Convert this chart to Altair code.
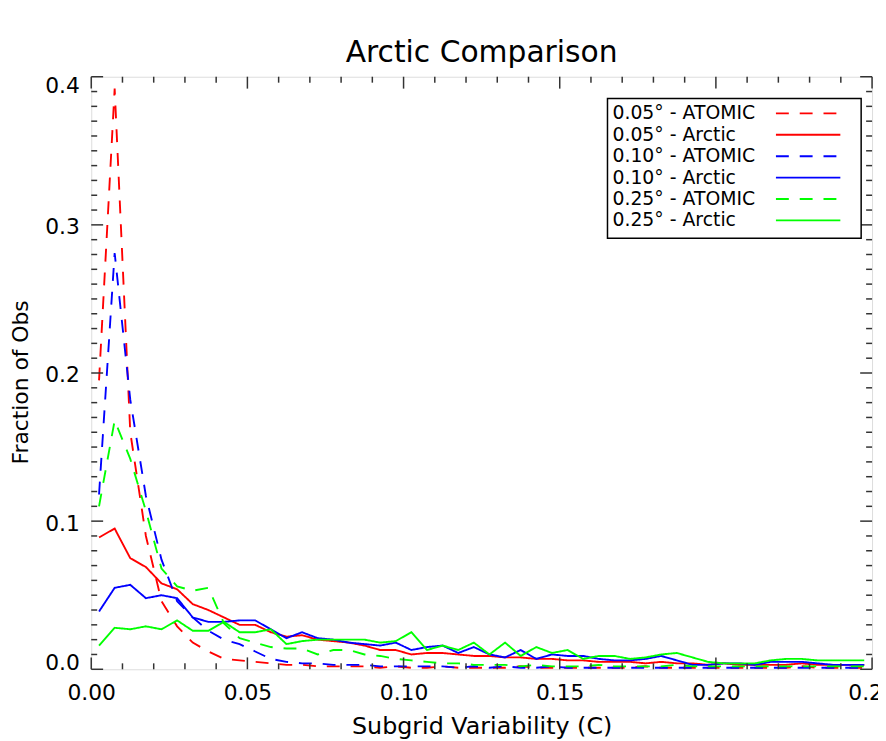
import altair as alt
import pandas as pd

# bin centres of subgrid variability (C)
x_bins = [0.0025, 0.0075, 0.0125, 0.0175, 0.0225, 0.0275, 0.0325, 0.0375, 0.0425, 0.0475,
          0.0525, 0.0575, 0.0625, 0.0675, 0.0725, 0.0775, 0.0825, 0.0875, 0.0925, 0.0975,
          0.1025, 0.1075, 0.1125, 0.1175, 0.1225, 0.1275, 0.1325, 0.1375, 0.1425, 0.1475,
          0.1525, 0.1575, 0.1625, 0.1675, 0.1725, 0.1775, 0.1825, 0.1875, 0.1925, 0.1975,
          0.2025, 0.2075, 0.2125, 0.2175, 0.2225, 0.2275, 0.2325, 0.2375, 0.2425, 0.2475]

atomic_005 = [0.195, 0.392, 0.160, 0.090, 0.046, 0.029, 0.018, 0.012, 0.007, 0.006,
              0.005, 0.004, 0.003, 0.003, 0.002, 0.002, 0.002, 0.002, 0.001, 0.002,
              0.001, 0.001, 0.002, 0.001, 0.001, 0.001, 0.001, 0.002, 0.001, 0.001,
              0.001, 0.001, 0.001, 0.001, 0.001, 0.002, 0.001, 0.001, 0.001, 0.001,
              0.001, 0.001, 0.001, 0.001, 0.001, 0.002, 0.001, 0.001, 0.001, 0.001]
arctic_005 = [0.089, 0.095, 0.075, 0.069, 0.058, 0.054, 0.044, 0.040, 0.035, 0.030,
              0.030, 0.025, 0.022, 0.023, 0.020, 0.019, 0.018, 0.016, 0.013, 0.013,
              0.010, 0.011, 0.011, 0.010, 0.009, 0.009, 0.008, 0.008, 0.007, 0.007,
              0.006, 0.006, 0.005, 0.005, 0.005, 0.004, 0.005, 0.004, 0.004, 0.003,
              0.004, 0.003, 0.003, 0.003, 0.003, 0.004, 0.003, 0.003, 0.003, 0.003]
atomic_010 = [0.118, 0.281, 0.182, 0.117, 0.074, 0.046, 0.035, 0.026, 0.020, 0.017,
              0.012, 0.007, 0.005, 0.004, 0.004, 0.003, 0.003, 0.003, 0.002, 0.002,
              0.002, 0.002, 0.002, 0.001, 0.002, 0.001, 0.002, 0.001, 0.001, 0.002,
              0.001, 0.001, 0.001, 0.001, 0.001, 0.001, 0.001, 0.001, 0.001, 0.001,
              0.001, 0.001, 0.001, 0.001, 0.001, 0.001, 0.001, 0.001, 0.001, 0.001]
arctic_010 = [0.039, 0.055, 0.057, 0.048, 0.050, 0.048, 0.035, 0.032, 0.032, 0.033,
              0.033, 0.027, 0.021, 0.025, 0.021, 0.020, 0.018, 0.017, 0.016, 0.018,
              0.013, 0.015, 0.016, 0.011, 0.015, 0.010, 0.008, 0.013, 0.007, 0.010,
              0.009, 0.009, 0.007, 0.006, 0.006, 0.007, 0.009, 0.006, 0.003, 0.003,
              0.004, 0.004, 0.003, 0.005, 0.005, 0.005, 0.004, 0.003, 0.003, 0.003]
atomic_025 = [0.110, 0.168, 0.142, 0.107, 0.068, 0.056, 0.053, 0.055, 0.031, 0.021,
              0.018, 0.015, 0.014, 0.014, 0.010, 0.013, 0.013, 0.010, 0.009, 0.007,
              0.006, 0.005, 0.004, 0.004, 0.003, 0.003, 0.003, 0.002, 0.003, 0.002,
              0.002, 0.002, 0.003, 0.002, 0.002, 0.002, 0.002, 0.003, 0.002, 0.002,
              0.002, 0.002, 0.002, 0.002, 0.002, 0.002, 0.002, 0.002, 0.002, 0.002]
arctic_025 = [0.016, 0.028, 0.027, 0.029, 0.027, 0.033, 0.026, 0.026, 0.032, 0.025,
              0.025, 0.027, 0.017, 0.019, 0.020, 0.020, 0.020, 0.020, 0.018, 0.019,
              0.025, 0.013, 0.016, 0.013, 0.018, 0.010, 0.018, 0.009, 0.015, 0.011,
              0.013, 0.007, 0.009, 0.009, 0.007, 0.008, 0.010, 0.011, 0.008, 0.005,
              0.004, 0.004, 0.004, 0.006, 0.007, 0.007, 0.006, 0.006, 0.006, 0.006]

series_names = ["0.05° - ATOMIC", "0.05° - Arctic", "0.10° - ATOMIC",
                "0.10° - Arctic", "0.25° - ATOMIC", "0.25° - Arctic"]
series_values = [atomic_005, arctic_005, atomic_010, arctic_010, atomic_025, arctic_025]
series_colors = ["#ff0000", "#ff0000", "#0000ff", "#0000ff", "#00ff00", "#00ff00"]
series_dashes = [[13, 11], [1, 0], [13, 11], [1, 0], [13, 11], [1, 0]]

x_major = [0.0, 0.05, 0.10, 0.15, 0.20, 0.25]
x_minor = [0.01, 0.02, 0.03, 0.04, 0.06, 0.07, 0.08, 0.09, 0.11, 0.12, 0.13, 0.14,
           0.16, 0.17, 0.18, 0.19, 0.21, 0.22, 0.23, 0.24]
y_major = [0.0, 0.1, 0.2, 0.3, 0.4]
y_minor = [0.01, 0.02, 0.03, 0.04, 0.05, 0.06, 0.07, 0.08, 0.09,
           0.11, 0.12, 0.13, 0.14, 0.15, 0.16, 0.17, 0.18, 0.19,
           0.21, 0.22, 0.23, 0.24, 0.25, 0.26, 0.27, 0.28, 0.29,
           0.31, 0.32, 0.33, 0.34, 0.35, 0.36, 0.37, 0.38, 0.39]

rows = []
for name, vals in zip(series_names, series_values):
    for i, (xv, yv) in enumerate(zip(x_bins, vals)):
        rows.append({"series": name, "x": xv, "y": yv, "order": i})
df = pd.DataFrame(rows)
df_leg = pd.DataFrame({"series": series_names})

W, H = 788, 598
FONT = "DejaVu Sans"
XT = "Subgrid Variability (C)"
YT = "Fraction of Obs"
xscale = alt.Scale(domain=[0, 0.25], nice=False, zero=False)
yscale = alt.Scale(domain=[0, 0.4], nice=False, zero=False)
color_scale = alt.Scale(domain=series_names, range=series_colors)
dash_scale = alt.Scale(domain=series_names, range=series_dashes)

xaxis = alt.Axis(values=x_major, format=".2f", ticks=False, tickSize=0, domain=False,
                 grid=False, labelFlush=False, labelPadding=13, labelFontSize=22,
                 labelFont=FONT, labelColor="black", titleFontSize=24, titleFont=FONT,
                 titleFontWeight="normal", titleColor="black", titlePadding=12)
yaxis = alt.Axis(values=y_major, format=".1f", ticks=False, tickSize=0, domain=False,
                 grid=False, labelFlush=True, labelFlushOffset=3, labelOffset=2,
                 labelPadding=12, labelFontSize=22,
                 labelFont=FONT, labelColor="black", titleFontSize=22, titleFont=FONT,
                 titleFontWeight="normal", titleColor="black", titlePadding=12, titleY=308)

lines = alt.Chart(df).mark_line(strokeWidth=1.9, clip=True).encode(
    x=alt.X("x:Q", scale=xscale, axis=xaxis, title=XT),
    y=alt.Y("y:Q", scale=yscale, axis=yaxis, title=YT),
    color=alt.Color("series:N", scale=color_scale, legend=None),
    strokeDash=alt.StrokeDash("series:N", scale=dash_scale, legend=None),
    detail="series:N",
    order="order:Q",
)

TICK_COLOR = "#333333"


def xticks(vals, length):
    d = pd.DataFrame({"x": vals})
    bottom = alt.Chart(d).mark_rule(color=TICK_COLOR, strokeWidth=1.5).encode(
        x=alt.X("x:Q", scale=xscale, title=XT), y=alt.value(H), y2=alt.value(H - length))
    top = alt.Chart(d).mark_rule(color=TICK_COLOR, strokeWidth=1.5).encode(
        x=alt.X("x:Q", scale=xscale, title=XT), y=alt.value(0), y2=alt.value(length))
    return [bottom, top]


def yticks(vals, length):
    d = pd.DataFrame({"y": vals})
    left = alt.Chart(d).mark_rule(color=TICK_COLOR, strokeWidth=1.5).encode(
        y=alt.Y("y:Q", scale=yscale, title=YT), x=alt.value(0), x2=alt.value(length))
    right = alt.Chart(d).mark_rule(color=TICK_COLOR, strokeWidth=1.5).encode(
        y=alt.Y("y:Q", scale=yscale, title=YT), x=alt.value(W), x2=alt.value(W - length))
    return [left, right]


main = alt.layer(lines, *(xticks(x_major, 12) + xticks(x_minor, 6)
                          + yticks(y_major, 12) + yticks(y_minor, 6)))

# legend box drawn as marks (labels on the left, line samples on the right)
leg_y = alt.Scale(type="point", domain=series_names, range=[37, 145], padding=0)
leg_frame = alt.Chart(df_leg.head(1)).mark_rect(
    fill="white", stroke="black", strokeWidth=1.5).encode(
    x=alt.value(521), x2=alt.value(777), y=alt.value(22), y2=alt.value(163))
leg_text = alt.Chart(df_leg).mark_text(
    align="left", baseline="middle", fontSize=19, font=FONT, color="black").encode(
    x=alt.value(526), y=alt.Y("series:N", scale=leg_y, axis=None), text="series:N")
leg_lines = alt.Chart(df_leg).mark_rule(strokeWidth=1.9).encode(
    x=alt.value(691), x2=alt.value(756), y=alt.Y("series:N", scale=leg_y, axis=None),
    color=alt.Color("series:N", scale=color_scale, legend=None),
    strokeDash=alt.StrokeDash("series:N", scale=dash_scale, legend=None))
legend_layer = alt.layer(leg_frame, leg_text, leg_lines)

chart = alt.layer(main, legend_layer).resolve_scale(y="independent").properties(
    width=W, height=H,
    title=alt.TitleParams("Arctic Comparison", fontSize=30, font=FONT, fontWeight="normal",
                          color="black", anchor="middle", offset=7),
    autosize=alt.AutoSizeParams(type="none"),
    padding={"left": 84, "top": 66, "right": 6, "bottom": 67},
).configure_view(stroke="#222222", strokeWidth=2).configure(background="white")

chart.save("out.html", embed_options={"renderer": "svg", "actions": False})
